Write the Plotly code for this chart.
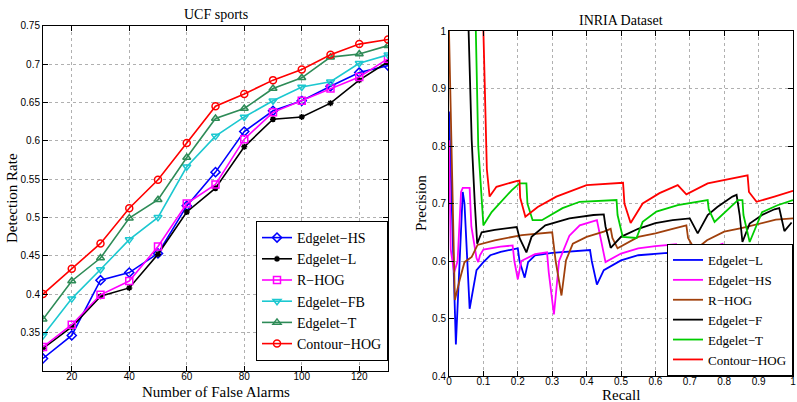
import plotly.graph_objects as go

# ---------------- Left chart: UCF sports ----------------
false_alarms = [10, 20, 30, 40, 50, 60, 70, 80, 90, 100, 110, 120, 130]
ucf_edgelet_hs = [0.316, 0.346, 0.418, 0.428, 0.453, 0.515, 0.559, 0.612, 0.639, 0.652, 0.671, 0.689, 0.698]
ucf_edgelet_l = [0.329, 0.357, 0.397, 0.408, 0.452, 0.507, 0.538, 0.592, 0.628, 0.631, 0.649, 0.679, 0.703]
ucf_r_hog = [0.331, 0.360, 0.399, 0.417, 0.462, 0.518, 0.543, 0.602, 0.637, 0.652, 0.668, 0.683, 0.707]
ucf_edgelet_fb = [0.346, 0.394, 0.432, 0.471, 0.500, 0.566, 0.606, 0.631, 0.652, 0.670, 0.677, 0.701, 0.712]
ucf_edgelet_t = [0.367, 0.417, 0.447, 0.499, 0.523, 0.578, 0.629, 0.642, 0.668, 0.682, 0.709, 0.713, 0.724]
ucf_contour_hog = [0.400, 0.433, 0.466, 0.512, 0.549, 0.597, 0.645, 0.661, 0.679, 0.693, 0.712, 0.726, 0.732]

left_yticks = [0.35, 0.4, 0.45, 0.5, 0.55, 0.6, 0.65, 0.7, 0.75]
left_yticklabels = ["0.35", "0.4", "0.45", "0.5", "0.55", "0.6", "0.65", "0.7", "0.75"]
left_xticks = [20, 40, 60, 80, 100, 120]

# ---------------- Right chart: INRIA Dataset ----------------
l_x = [0, 0.02, 0.04, 0.045, 0.06, 0.08, 0.10, 0.12, 0.15, 0.18, 0.20, 0.205, 0.22, 0.23, 0.25, 0.30, 0.35, 0.41, 0.415, 0.43, 0.45, 0.50, 0.55, 0.60, 0.635, 0.645, 0.655, 0.70, 0.80, 0.865, 0.875, 0.90, 0.95, 1.0]
l_y = [0.86, 0.455, 0.72, 0.70, 0.517, 0.584, 0.598, 0.61, 0.616, 0.62, 0.622, 0.60, 0.571, 0.598, 0.61, 0.614, 0.616, 0.619, 0.60, 0.559, 0.584, 0.601, 0.61, 0.613, 0.614, 0.60, 0.598, 0.60, 0.604, 0.606, 0.588, 0.593, 0.598, 0.601]

hs_x = [0, 0.005, 0.015, 0.025, 0.035, 0.04, 0.06, 0.065, 0.08, 0.085, 0.09, 0.10, 0.15, 0.185, 0.19, 0.20, 0.21, 0.25, 0.285, 0.29, 0.305, 0.32, 0.35, 0.38, 0.43, 0.44, 0.455, 0.50, 0.55, 0.60, 0.66, 0.665, 0.68, 0.70, 0.75, 0.795, 0.80, 0.84, 0.855, 0.87, 0.91, 0.95, 1.0]
hs_y = [0.81, 0.62, 0.58, 0.60, 0.72, 0.727, 0.727, 0.66, 0.605, 0.598, 0.61, 0.62, 0.625, 0.627, 0.60, 0.568, 0.60, 0.612, 0.615, 0.58, 0.507, 0.60, 0.644, 0.662, 0.671, 0.64, 0.598, 0.613, 0.622, 0.626, 0.629, 0.55, 0.575, 0.60, 0.62, 0.63, 0.45, 0.50, 0.58, 0.60, 0.615, 0.622, 0.628]

rhog_x = [0, 0.017, 0.031, 0.045, 0.066, 0.083, 0.133, 0.212, 0.30, 0.31, 0.327, 0.34, 0.36, 0.40, 0.45, 0.47, 0.475, 0.49, 0.55, 0.60, 0.65, 0.69, 0.695, 0.715, 0.75, 0.80, 0.85, 0.90, 0.95, 1.0]
rhog_y = [1.0, 0.532, 0.567, 0.598, 0.607, 0.628, 0.636, 0.645, 0.65, 0.60, 0.54, 0.601, 0.63, 0.642, 0.651, 0.656, 0.64, 0.622, 0.642, 0.648, 0.656, 0.662, 0.64, 0.619, 0.636, 0.651, 0.657, 0.665, 0.672, 0.674]

f_x = [0.057, 0.066, 0.075, 0.082, 0.095, 0.133, 0.197, 0.205, 0.225, 0.24, 0.28, 0.35, 0.42, 0.45, 0.455, 0.47, 0.50, 0.55, 0.60, 0.65, 0.70, 0.723, 0.752, 0.78, 0.824, 0.836, 0.845, 0.853, 0.874, 0.91, 0.946, 0.96, 0.975, 0.996]
f_y = [1.0, 0.81, 0.70, 0.63, 0.65, 0.654, 0.659, 0.64, 0.615, 0.642, 0.662, 0.674, 0.68, 0.681, 0.66, 0.623, 0.642, 0.656, 0.666, 0.671, 0.674, 0.648, 0.68, 0.694, 0.712, 0.715, 0.68, 0.633, 0.665, 0.68, 0.69, 0.692, 0.652, 0.667]

t_x = [0.078, 0.085, 0.10, 0.124, 0.182, 0.205, 0.225, 0.228, 0.243, 0.27, 0.33, 0.38, 0.487, 0.49, 0.505, 0.545, 0.563, 0.603, 0.665, 0.752, 0.755, 0.772, 0.84, 0.853, 0.856, 0.874, 0.91, 0.955, 1.0]
t_y = [1.0, 0.80, 0.662, 0.685, 0.723, 0.735, 0.735, 0.70, 0.671, 0.671, 0.692, 0.703, 0.706, 0.68, 0.642, 0.64, 0.668, 0.686, 0.697, 0.706, 0.69, 0.668, 0.706, 0.706, 0.68, 0.633, 0.685, 0.697, 0.706]

c_x = [0.10, 0.11, 0.118, 0.138, 0.196, 0.205, 0.207, 0.222, 0.258, 0.312, 0.40, 0.506, 0.51, 0.528, 0.563, 0.612, 0.665, 0.69, 0.752, 0.868, 0.872, 0.894, 0.946, 1.0]
c_y = [1.0, 0.76, 0.712, 0.729, 0.739, 0.74, 0.71, 0.677, 0.694, 0.712, 0.732, 0.736, 0.70, 0.666, 0.70, 0.718, 0.732, 0.716, 0.735, 0.749, 0.72, 0.703, 0.712, 0.722]

right_yticks = [0.4, 0.5, 0.6, 0.7, 0.8, 0.9, 1.0]
right_yticklabels = ["0.4", "0.5", "0.6", "0.7", "0.8", "0.9", "1"]
right_xticks = [0, 0.1, 0.2, 0.3, 0.4, 0.5, 0.6, 0.7, 0.8, 0.9, 1.0]
right_xticklabels = ["0", "0.1", "0.2", "0.3", "0.4", "0.5", "0.6", "0.7", "0.8", "0.9", "1"]

SERIF = "Liberation Serif, Times New Roman, serif"
SANS = "Liberation Sans, Arial, sans-serif"

fig = go.Figure()

left_series = [
    ("Edgelet−HS", ucf_edgelet_hs, "#0000ff", "diamond-open", 7),
    ("Edgelet−L", ucf_edgelet_l, "#000000", "asterisk-open", 5),
    ("R−HOG", ucf_r_hog, "#ff00ff", "square-open", 7),
    ("Edgelet−FB", ucf_edgelet_fb, "#1cc8d0", "triangle-down-open", 7),
    ("Edgelet−T", ucf_edgelet_t, "#2e8b57", "triangle-up-open", 7),
    ("Contour−HOG", ucf_contour_hog, "#ff0000", "circle-open", 7),
]
for name, vals, col, sym, sz in left_series:
    fig.add_trace(go.Scatter(
        x=false_alarms, y=vals, name=name, mode="lines+markers",
        line=dict(color=col, width=1.6),
        marker=dict(symbol=sym, size=sz, color=col, line=dict(color=col, width=1.5)),
        xaxis="x", yaxis="y", legend="legend",
    ))

right_series = [
    ("Edgelet−L", l_x, l_y, "#0000ff"),
    ("Edgelet−HS", hs_x, hs_y, "#ff00ff"),
    ("R−HOG", rhog_x, rhog_y, "#a0400c"),
    ("Edgelet−F", f_x, f_y, "#000000"),
    ("Edgelet−T", t_x, t_y, "#00cc00"),
    ("Contour−HOG", c_x, c_y, "#ff0000"),
]
for name, xs, ys, col in right_series:
    fig.add_trace(go.Scatter(
        x=xs, y=ys, name=name, mode="lines",
        line=dict(color=col, width=1.8),
        xaxis="x2", yaxis="y2", legend="legend2",
    ))

axis_common = dict(
    showline=True, linecolor="black", linewidth=1, mirror="ticks",
    ticks="inside", ticklen=5, tickcolor="black",
    showgrid=True, gridcolor="#b0b0b0", griddash="dot", gridwidth=1,
    zeroline=False, tickfont=dict(family=SANS, size=10, color="black"),
    automargin=False,
)

def label(text, x, y, size=15, angle=0):
    return dict(text=text, x=x/797, y=1-y/402, xref="paper", yref="paper",
                xanchor="center", yanchor="middle", textangle=angle,
                showarrow=False, font=dict(family=SERIF, size=size, color="black"))

fig.update_layout(
    width=797, height=402,
    margin=dict(l=0, r=0, t=0, b=0, autoexpand=False),
    paper_bgcolor="white", plot_bgcolor="white",
    xaxis=dict(domain=[43/797, 388/797], range=[10, 130], tickvals=left_xticks,
               anchor="y", ticklabelstandoff=-4, **axis_common),
    yaxis=dict(domain=[1-370.7/402, 1-25.7/402], range=[0.30, 0.75], tickvals=left_yticks,
               ticktext=left_yticklabels, anchor="x", **axis_common),
    xaxis2=dict(domain=[449/797, 793/797], range=[0, 1], tickvals=right_xticks,
                ticktext=right_xticklabels, anchor="y2", ticklabelstandoff=-4, **axis_common),
    yaxis2=dict(domain=[1-376/402, 1-31/402], range=[0.4, 1.0], tickvals=right_yticks,
                ticktext=right_yticklabels, anchor="x2", **axis_common),
    legend=dict(x=388/797, xanchor="right", y=1-361/402, yanchor="bottom",
                bgcolor="white", bordercolor="black", borderwidth=1,
                font=dict(family=SERIF, size=14, color="black"),
                tracegroupgap=0, itemwidth=30),
    legend2=dict(x=793/797, xanchor="right", y=1-376/402, yanchor="bottom",
                 bgcolor="white", bordercolor="black", borderwidth=1,
                 font=dict(family=SERIF, size=13, color="black"),
                 tracegroupgap=0, itemwidth=30),
    annotations=[
        label("UCF sports", (43+388)/2, 15, 14),
        label("INRIA Dataset", (449+793)/2, 20, 14),
        label("Number of False Alarms", (43+388)/2, 392, 15),
        label("Detection Rate", 12, 198, 15, -90),
        label("Recall", (449+793)/2, 395, 15),
        label("Precision", 421, 203, 15, -90),
    ],
    showlegend=True,
)

fig.write_html("out.html", config={"displayModeBar": False},
               post_script="document.body.style.margin='0';document.body.style.overflow='hidden';")
